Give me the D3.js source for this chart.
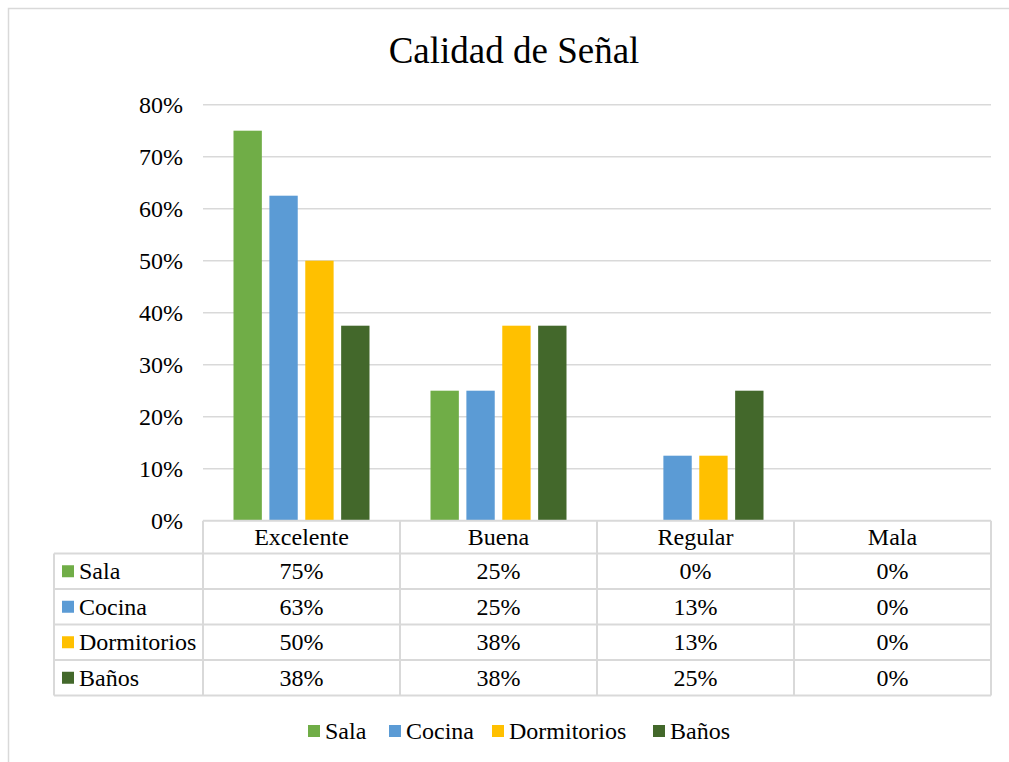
<!DOCTYPE html>
<html>
<head>
<meta charset="utf-8">
<script src="https://cdn.jsdelivr.net/npm/d3@7"></script>
<style>
  body { margin: 0; background: #fff; }
  text { font-family: "Liberation Serif", "Times New Roman", Times, serif; fill: #000; }
</style>
</head>
<body>
<div id="chart"></div>
<script>
var categories = ['Excelente', 'Buena', 'Regular', 'Mala'];
var seriesNames = ['Sala', 'Cocina', 'Dormitorios', 'Baños'];
var sala = [75, 25, 0, 0];
var cocina = [62.5, 25, 12.5, 0];
var dormitorios = [50, 37.5, 12.5, 0];
var banos = [37.5, 37.5, 25, 0];
var yTicks = [0, 10, 20, 30, 40, 50, 60, 70, 80];
var colors = ['#70ad47', '#5b9bd5', '#ffc000', '#43682b'];

var seriesValues = [sala, cocina, dormitorios, banos];

var width = 1009, height = 762;
var plotLeft = 203, plotRight = 991, plotTop = 104.7, plotBottom = 520.7;
var grid = '#d9d9d9';
var fontSize = '24px';

var svg = d3.select('#chart').append('svg')
    .attr('width', width)
    .attr('height', height);

// chart area border
svg.append('rect')
    .attr('x', 8.5).attr('y', 8.5)
    .attr('width', 1100).attr('height', 900)
    .attr('fill', 'none')
    .attr('stroke', grid)
    .attr('stroke-width', 1.5);

svg.append('text')
    .attr('x', 514).attr('y', 63)
    .attr('text-anchor', 'middle')
    .style('font-size', '37px')
    .text('Calidad de Señal');

var x0 = d3.scaleBand().domain(categories).range([plotLeft, plotRight]);
var x1 = d3.scaleBand().domain(seriesNames)
    .range([30.5, x0.bandwidth() - 30.5])
    .paddingInner(0.21);
var y = d3.scaleLinear().domain([0, 80]).range([plotBottom, plotTop]);

// gridlines
svg.append('g').selectAll('line')
    .data(yTicks.slice(1))
    .enter().append('line')
    .attr('x1', plotLeft).attr('x2', plotRight)
    .attr('y1', function (d) { return y(d); })
    .attr('y2', function (d) { return y(d); })
    .attr('stroke', grid)
    .attr('stroke-width', 1.5);

// y axis labels
svg.append('g').selectAll('text')
    .data(yTicks)
    .enter().append('text')
    .attr('x', 183)
    .attr('y', function (d) { return y(d); })
    .attr('dy', '0.33em')
    .attr('text-anchor', 'end')
    .style('font-size', fontSize)
    .text(function (d) { return d + '%'; });

// bars
var groups = svg.append('g').selectAll('g')
    .data(categories)
    .enter().append('g')
    .attr('transform', function (d) { return 'translate(' + x0(d) + ',0)'; });

groups.selectAll('rect')
    .data(function (c, i) {
        return seriesNames.map(function (s, j) {
            return { name: s, value: seriesValues[j][i], color: colors[j] };
        });
    })
    .enter().append('rect')
    .attr('x', function (d) { return x1(d.name); })
    .attr('width', x1.bandwidth())
    .attr('y', function (d) { return y(d.value); })
    .attr('height', function (d) { return plotBottom - y(d.value); })
    .attr('fill', function (d) { return d.color; });

// data table
var tableLeft = 54;
var headerBottom = 553.5;
var tableBottom = 695.5;
var rowY = d3.scaleBand().domain(seriesNames).range([headerBottom, tableBottom]);
var tbl = svg.append('g')
    .attr('stroke', grid)
    .attr('stroke-width', 2)
    .attr('fill', 'none');

// horizontal lines
tbl.append('line').attr('x1', plotLeft).attr('x2', plotRight).attr('y1', plotBottom).attr('y2', plotBottom);
tbl.selectAll('.hline')
    .data(seriesNames)
    .enter().append('line')
    .attr('x1', tableLeft).attr('x2', plotRight)
    .attr('y1', function (d) { return rowY(d); })
    .attr('y2', function (d) { return rowY(d); });
tbl.append('line').attr('x1', tableLeft).attr('x2', plotRight).attr('y1', tableBottom).attr('y2', tableBottom);

// vertical lines
tbl.append('line').attr('x1', tableLeft).attr('x2', tableLeft).attr('y1', headerBottom).attr('y2', tableBottom);
tbl.selectAll('.vline')
    .data(categories.concat(['end']))
    .enter().append('line')
    .attr('x1', function (d) { return d === 'end' ? plotRight : x0(d); })
    .attr('x2', function (d) { return d === 'end' ? plotRight : x0(d); })
    .attr('y1', plotBottom).attr('y2', tableBottom);

// header labels
svg.append('g').selectAll('text')
    .data(categories)
    .enter().append('text')
    .attr('x', function (d) { return x0(d) + x0.bandwidth() / 2; })
    .attr('y', (plotBottom + headerBottom) / 2)
    .attr('dy', '0.33em')
    .attr('text-anchor', 'middle')
    .style('font-size', fontSize)
    .text(function (d) { return d; });

// row labels with keys
var rows = svg.append('g').selectAll('g')
    .data(seriesNames)
    .enter().append('g')
    .attr('transform', function (d) { return 'translate(0,' + (rowY(d) + rowY.bandwidth() / 2) + ')'; });

rows.append('rect')
    .attr('x', 62).attr('y', -6)
    .attr('width', 12).attr('height', 12)
    .attr('fill', function (d, i) { return colors[i]; });

rows.append('text')
    .attr('x', 79).attr('dy', '0.33em')
    .style('font-size', fontSize)
    .text(function (d) { return d; });

rows.selectAll('.cell')
    .data(function (d, i) { return seriesValues[i]; })
    .enter().append('text')
    .attr('x', function (d, j) { return x0(categories[j]) + x0.bandwidth() / 2; })
    .attr('dy', '0.33em')
    .attr('text-anchor', 'middle')
    .style('font-size', fontSize)
    .text(function (d) { return Math.round(d) + '%'; });

// legend
var legendX = [308, 389, 492, 653];
var legend = svg.append('g').selectAll('g')
    .data(seriesNames)
    .enter().append('g')
    .attr('transform', function (d, i) { return 'translate(' + legendX[i] + ',731)'; });

legend.append('rect')
    .attr('x', 0).attr('y', -6)
    .attr('width', 12).attr('height', 12)
    .attr('fill', function (d, i) { return colors[i]; });

legend.append('text')
    .attr('x', 17).attr('dy', '0.33em')
    .style('font-size', fontSize)
    .text(function (d) { return d; });
</script>
</body>
</html>
